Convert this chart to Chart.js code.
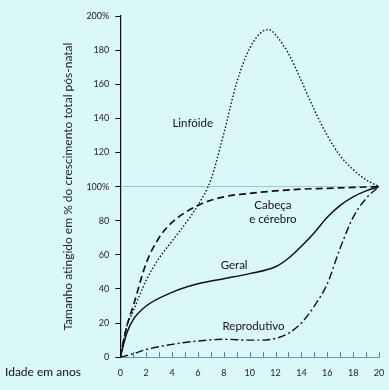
<html lang="pt"><head>
<meta charset="UTF-8">
<title>Curvas de crescimento</title>
<script src="https://cdn.jsdelivr.net/npm/chart.js"></script>
<style>
  body { margin: 0; background: #dbf8f8; }
  .wrap { width: 389px; height: 390px; }
</style>
</head>
<body>
<div class="wrap"><canvas id="chart"></canvas></div>
<script>
  // ages (years) and % of total post-natal growth
  const linfAges = [0, 0.5, 1, 2, 3, 4, 5, 6, 7, 8, 9, 10, 11, 11.5, 12, 13, 14, 15, 16, 17, 18, 19, 20];
  const linfVals = [0, 18, 27, 45, 58, 68, 78, 89, 104, 131, 161, 181, 191, 192, 189, 178, 162, 145, 130, 118, 110, 104, 100];

  const cabAges = [0, 0.5, 1, 2, 3, 4, 6, 8, 10, 12, 14, 16, 18, 20];
  const cabVals = [0, 18, 30, 55, 70, 79, 89, 94, 96, 97.5, 98.5, 99, 99.5, 100];

  const gerAges = [0, 0.5, 1, 2, 4, 6, 8, 10, 12, 13, 14, 15, 16, 17, 18, 19, 20];
  const gerVals = [0, 14, 22, 30, 38, 43, 46, 49, 53, 58, 65, 73, 82, 89, 94, 97.5, 100];

  const repAges = [0, 1, 2, 4, 6, 8, 10, 11, 12, 13, 14, 15, 16, 17, 18, 19, 20];
  const repVals = [0, 2, 4.5, 7.5, 9.5, 10.5, 10, 10, 11, 14, 20, 30, 43, 64, 82, 93, 100];

  const yTicks = [0, 20, 40, 60, 80, 100, 120, 140, 160, 180, 200];
  const xTicks = [0, 2, 4, 6, 8, 10, 12, 14, 16, 18, 20];

  const curveLabels = [
    { text: 'Linfóide', x: 5.6, y: 137 },
    { text: 'Cabeça', x: 11.8, y: 89 },
    { text: 'e cérebro', x: 11.8, y: 81 },
    { text: 'Geral', x: 8.8, y: 54 },
    { text: 'Reprodutivo', x: 10.3, y: 18 }
  ];

  const toPts = (xs, ys) => xs.map((x, i) => ({ x: x, y: ys[i] }));

  const extras = {
    id: 'extras',
    beforeDraw(chart) {
      const c = chart.ctx;
      c.save();
      c.fillStyle = '#dbf8f8';
      c.fillRect(0, 0, chart.width, chart.height);
      c.restore();
    },
    afterDraw(chart) {
      const c = chart.ctx;
      const xs = chart.scales.x, ys = chart.scales.y;
      c.save();
      // small inward ticks on the age axis
      c.strokeStyle = '#5a7f9a';
      c.lineWidth = 1;
      for (let a = 1; a <= 20; a++) {
        const px = Math.round(xs.getPixelForValue(a)) + 0.5;
        c.beginPath();
        c.moveTo(px, ys.bottom);
        c.lineTo(px, ys.bottom - 5);
        c.stroke();
      }
      // curve names
      c.fillStyle = '#111';
      c.font = '11.5px Lato';
      c.textAlign = 'center';
      c.textBaseline = 'middle';
      curveLabels.forEach(l => {
        c.fillText(l.text, xs.getPixelForValue(l.x), ys.getPixelForValue(l.y));
      });
      // axis caption
      c.font = '12px Lato';
      c.textAlign = 'left';
      c.fillText('Idade em anos', 5, ys.bottom + 15);
      c.restore();
    }
  };

  const lineStyle = (label, data, dash, width) => ({
    label: label,
    data: data,
    borderColor: '#111',
    borderWidth: width,
    borderDash: dash,
    pointRadius: 0,
    fill: false,
    cubicInterpolationMode: 'monotone'
  });

  new Chart(document.getElementById('chart'), {
    type: 'line',
    data: {
      datasets: [
        lineStyle('Linfóide', toPts(linfAges, linfVals), [1.5, 2], 1.4),
        lineStyle('Cabeça e cérebro', toPts(cabAges, cabVals), [7, 4], 1.7),
        lineStyle('Geral', toPts(gerAges, gerVals), [], 1.5),
        lineStyle('Reprodutivo', toPts(repAges, repVals), [8, 3, 2, 3], 1.4)
      ]
    },
    options: {
      responsive: true,
      maintainAspectRatio: false,
      animation: false,
      layout: { padding: { top: 16, right: 10, bottom: 10, left: 61 } },
      plugins: { legend: { display: false }, tooltip: { enabled: false } },
      scales: {
        x: {
          type: 'linear',
          min: 0,
          max: 20,
          afterBuildTicks: s => { s.ticks = xTicks.map(v => ({ value: v })); },
          border: { color: '#6d93ad', width: 1 },
          grid: { display: false },
          ticks: { color: '#222', font: { family: 'Lato', size: 9 }, padding: 2, maxRotation: 0 }
        },
        y: {
          min: 0,
          max: 200,
          afterBuildTicks: s => { s.ticks = yTicks.map(v => ({ value: v })); },
          border: { color: '#111', width: 1.2 },
          grid: {
            drawOnChartArea: true,
            color: ctx => (ctx.tick && ctx.tick.value === 100) ? '#9cc6dc' : 'rgba(0,0,0,0)',
            tickColor: '#111',
            tickLength: 5
          },
          ticks: {
            color: '#222',
            font: { family: 'Lato', size: 9 },
            padding: 6,
            callback: v => (v === 200 || v === 100) ? v + '%' : v
          },
          title: {
            display: true,
            text: 'Tamanho atingido em % do crescimento total pós-natal',
            color: '#222',
            font: { family: 'Lato', size: 12 },
            padding: { top: 0, bottom: 5 }
          }
        }
      }
    },
    plugins: [extras]
  });
</script>
</body></html>
